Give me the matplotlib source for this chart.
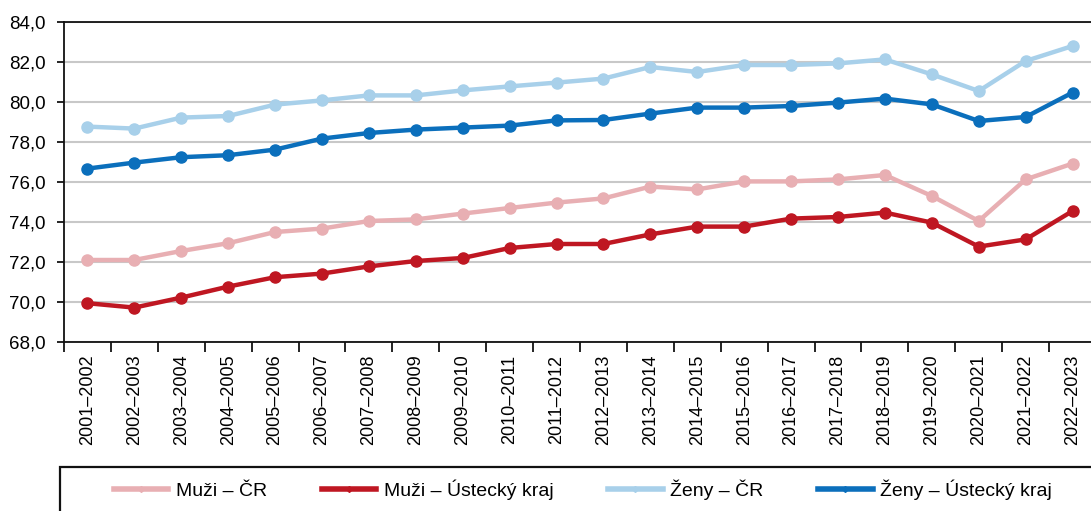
import numpy as np
import matplotlib
matplotlib.use('Agg')
import matplotlib.pyplot as plt
from matplotlib.lines import Line2D
from matplotlib.patches import Rectangle
from matplotlib.ticker import FixedLocator, FuncFormatter

plt.rcParams['font.family'] = ['Liberation Sans', 'DejaVu Sans']

periods = ['2001–2002', '2002–2003', '2003–2004', '2004–2005', '2005–2006',
           '2006–2007', '2007–2008', '2008–2009', '2009–2010', '2010–2011',
           '2011–2012', '2012–2013', '2013–2014', '2014–2015', '2015–2016',
           '2016–2017', '2017–2018', '2018–2019', '2019–2020', '2020–2021',
           '2021–2022', '2022–2023']

muzi_cr = [72.1, 72.1, 72.55, 72.94, 73.5, 73.67, 74.05, 74.13, 74.42, 74.7,
           74.97, 75.18, 75.77, 75.63, 76.03, 76.03, 76.13, 76.35, 75.3, 74.05,
           76.13, 76.92]
muzi_ust = [69.94, 69.72, 70.22, 70.77, 71.24, 71.42, 71.78, 72.05, 72.2, 72.7,
            72.9, 72.9, 73.38, 73.77, 73.77, 74.17, 74.25, 74.47, 73.97, 72.77,
            73.13, 74.55]
zeny_cr = [78.77, 78.67, 79.22, 79.3, 79.87, 80.08, 80.33, 80.33, 80.58, 80.78,
           80.97, 81.17, 81.75, 81.5, 81.85, 81.85, 81.93, 82.13, 81.38, 80.55,
           82.05, 82.8]
zeny_ust = [76.67, 76.97, 77.24, 77.34, 77.62, 78.17, 78.45, 78.62, 78.72, 78.82,
            79.08, 79.1, 79.42, 79.72, 79.72, 79.8, 79.97, 80.17, 79.88, 79.05,
            79.25, 80.47]

series = [
    ('Muži – ČR', muzi_cr, '#E8AFB3'),
    ('Muži – Ústecký kraj', muzi_ust, '#BF1722'),
    ('Ženy – ČR', zeny_cr, '#A8D0EA'),
    ('Ženy – Ústecký kraj', zeny_ust, '#0B6FBC'),
]

W, H = 1091, 511
fig = plt.figure(figsize=(W / 100, H / 100), dpi=100)
ax = fig.add_axes([64 / W, (H - 342) / H, 1032 / W, 320 / H])

x = np.arange(len(periods))
for label, vals, col in series:
    ax.plot(x, vals, color=col, lw=3.2, marker='o', ms=8, mec=col, mfc=col,
            solid_capstyle='round', zorder=3)

ax.set_xlim(-0.5, len(periods) - 0.5)
ax.set_ylim(68, 84)
ax.set_yticks(np.arange(68, 84.1, 2))
ax.yaxis.set_major_formatter(FuncFormatter(lambda v, p: f'{v:.1f}'.replace('.', ',')))
ax.grid(axis='y', color='#C8C8C8', lw=1.5, zorder=0)
ax.set_axisbelow(True)

ax.set_xticks(x)
ax.set_xticklabels(periods, rotation=90)
ax.xaxis.set_minor_locator(FixedLocator(np.arange(-0.5, len(periods), 1)))
ax.tick_params(axis='x', which='major', length=0, pad=9, labelsize=13)
ax.tick_params(axis='x', which='minor', length=7, width=1.2, direction='out')
ax.tick_params(axis='y', length=5, width=1.2, pad=8, labelsize=13.5)

for s in ['left', 'bottom', 'top']:
    ax.spines[s].set_linewidth(1.3)
    ax.spines[s].set_color('#111111')
ax.spines['right'].set_visible(False)

fig.add_artist(Rectangle((60 / W, -0.1), 1.1, (H - 467) / H + 0.1,
                         transform=fig.transFigure, fill=False,
                         lw=1.6, ec='#111111'))

handles = [Line2D([], [], color=c, lw=4, marker='D', ms=3, mfc=c, mec=c)
           for _, _, c in series]
fig.legend(handles, [s[0] for s in series], loc='center left',
           bbox_to_anchor=(114 / W, 1 - 490 / H), ncol=4, frameon=False,
           fontsize=14, handlelength=2.8, handletextpad=0.4,
           columnspacing=2.8, borderpad=0, borderaxespad=0)

fig.savefig('out.png', dpi=100)
